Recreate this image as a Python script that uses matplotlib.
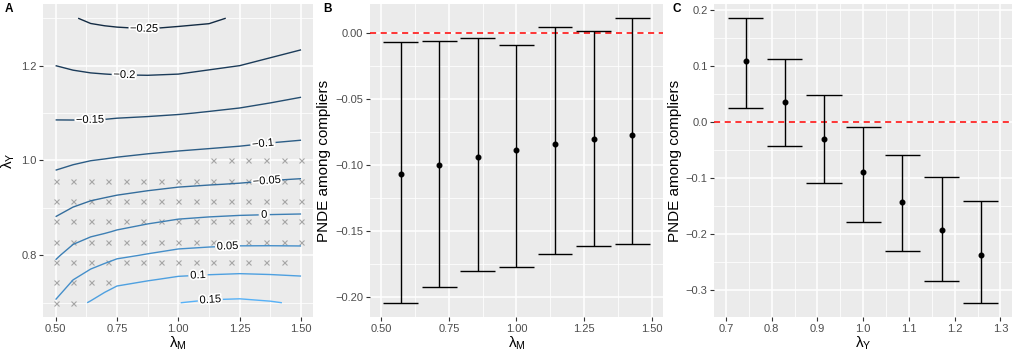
import numpy as np
import matplotlib
matplotlib.use("Agg")
import matplotlib.pyplot as plt
import matplotlib.patheffects as pe
from matplotlib.colors import LinearSegmentedColormap, Normalize
from matplotlib.ticker import FixedLocator, FuncFormatter

plt.rcParams["font.family"] = ["Liberation Sans", "DejaVu Sans"]
plt.rcParams["mathtext.fontset"] = "custom"
plt.rcParams["mathtext.rm"] = "Liberation Sans"
plt.rcParams["mathtext.it"] = "Liberation Sans:italic"

# ── Panel A: PNDE surface over (lambda_M, lambda_Y) ──────────────────────────
surf_lam_m = [0.5, 0.5714, 0.6429, 0.7, 0.75, 0.875, 1.0, 1.125, 1.25, 1.375, 1.5]
surf_lam_y = [0.70, 0.75, 0.80, 0.85, 0.90, 0.95, 1.00, 1.05, 1.10, 1.15, 1.20, 1.25, 1.30]
surf_pnde = [
    [0.054, 0.088, 0.103, 0.118, 0.130, 0.142, 0.1495, 0.156, 0.158, 0.153, 0.145],
    [0.024, 0.0487, 0.066, 0.077, 0.0875, 0.0965, 0.105, 0.108, 0.110, 0.108, 0.105],
    [-0.0055, 0.015, 0.028, 0.036, 0.0435, 0.0526, 0.061, 0.064, 0.066, 0.066, 0.065],
    [-0.033, -0.0175, -0.008, -0.003, 0.0025, 0.012, 0.020, 0.024, 0.026, 0.0265, 0.027],
    [-0.060, -0.049, -0.041, -0.0365, -0.0326, -0.025, -0.018, -0.0147, -0.012, -0.0104, -0.0093],
    [-0.0856, -0.077, -0.071, -0.068, -0.065, -0.0595, -0.0545, -0.0513, -0.0486, -0.0451, -0.0427],
    [-0.110, -0.105, -0.1003, -0.098, -0.0957, -0.091, -0.087, -0.084, -0.081, -0.077, -0.074],
    [-0.134, -0.132, -0.130, -0.1287, -0.1265, -0.123, -0.1195, -0.116, -0.1125, -0.108, -0.1044],
    [-0.1565, -0.1575, -0.158, -0.1577, -0.1565, -0.1547, -0.152, -0.148, -0.144, -0.138, -0.132],
    [-0.178, -0.181, -0.183, -0.1835, -0.184, -0.184, -0.182, -0.177, -0.172, -0.166, -0.159],
    [-0.200, -0.2045, -0.2075, -0.209, -0.210, -0.211, -0.210, -0.205, -0.200, -0.192, -0.184],
    [-0.221, -0.227, -0.2325, -0.234, -0.235, -0.236, -0.235, -0.230, -0.221, -0.216, -0.208],
    [-0.242, -0.248, -0.255, -0.2575, -0.259, -0.2615, -0.258, -0.256, -0.245, -0.2385, -0.231],
]
contour_levels = [-0.25, -0.2, -0.15, -0.1, -0.05, 0.0, 0.05, 0.1, 0.15]
label_spots = [(0.86, 1.277), (0.78, 1.18), (0.64, 1.083), (1.345, 1.034),
               (1.36, 0.957), (1.35, 0.884), (1.20, 0.818), (1.08, 0.757),
               (1.13, 0.708)]

# grid cells flagged with an "x"
mark_lam_m = [0.5, 0.5714, 0.6429, 0.7143, 0.7857, 0.8571, 0.9286, 1.0,
              1.0714, 1.1429, 1.2143, 1.2857, 1.3571, 1.4286, 1.5]
mark_lam_y = [0.7, 0.7429, 0.7857, 0.8286, 0.8714, 0.9143, 0.9571, 1.0]
mark_first = [0, 0, 0, 0, 0, 0, 0, 9]
mark_last = [1, 3, 13, 14, 14, 14, 14, 14]

# ── Panel B: PNDE vs lambda_M ────────────────────────────────────────────────
b_lam_m = [0.5714, 0.7143, 0.8571, 1.0, 1.1429, 1.2857, 1.4286]
b_est = [-0.1069, -0.0996, -0.0936, -0.0885, -0.0843, -0.0805, -0.0772]
b_lo = [-0.204, -0.192, -0.180, -0.177, -0.167, -0.161, -0.1597]
b_hi = [-0.007, -0.006, -0.0043, -0.009, 0.0043, 0.001, 0.0109]

# ── Panel C: PNDE vs lambda_Y ────────────────────────────────────────────────
c_lam_y = [0.7429, 0.8286, 0.9143, 1.0, 1.0857, 1.1714, 1.2571]
c_est = [0.110, 0.0364, -0.029, -0.0891, -0.1426, -0.1918, -0.237]
c_lo = [0.0257, -0.0415, -0.1087, -0.177, -0.230, -0.2834, -0.322]
c_hi = [0.186, 0.113, 0.049, -0.0089, -0.0576, -0.0973, -0.1396]


def minus(s):
    return s.replace("-", "\u2212")


def expand(lo, hi, mult=0.05):
    pad = (hi - lo) * mult
    return lo - pad, hi + pad


def gg_style(ax, xmaj, xmin, ymaj, ymin, xfmt, yfmt):
    ax.set_facecolor("#EBEBEB")
    for s in ax.spines.values():
        s.set_visible(False)
    ax.xaxis.set_major_locator(FixedLocator(xmaj))
    ax.xaxis.set_minor_locator(FixedLocator(xmin))
    ax.yaxis.set_major_locator(FixedLocator(ymaj))
    ax.yaxis.set_minor_locator(FixedLocator(ymin))
    ax.xaxis.set_major_formatter(FuncFormatter(lambda v, p: minus(xfmt.format(v))))
    ax.yaxis.set_major_formatter(FuncFormatter(lambda v, p: minus(yfmt.format(v))))
    ax.grid(which="major", color="white", lw=1.1)
    ax.grid(which="minor", color="white", lw=0.55)
    ax.set_axisbelow(True)
    ax.tick_params(which="major", length=2.75, width=0.8, color="#333333",
                   labelsize=8, labelcolor="#4D4D4D", pad=2)
    ax.tick_params(which="minor", length=0)


def errorbar_panel(ax, x, est, lo, hi, cap):
    ax.axhline(0, color="red", lw=1.1, ls=(0, (4, 3)), zorder=1)
    ax.vlines(x, lo, hi, color="black", lw=1.0, zorder=2)
    ax.hlines(lo, np.array(x) - cap, np.array(x) + cap, color="black", lw=1.0, zorder=2)
    ax.hlines(hi, np.array(x) - cap, np.array(x) + cap, color="black", lw=1.0, zorder=2)
    ax.plot(x, est, "o", color="black", ms=3.3, zorder=3)
    ax.set_xlim(*expand(min(x) - cap, max(x) + cap))
    ax.set_ylim(*expand(min(min(lo), 0), max(max(hi), 0)))


fig = plt.figure(figsize=(10.17, 3.56), dpi=100)
ax_a = fig.add_axes([0.0426, 0.1096, 0.2655, 0.8792])
ax_b = fig.add_axes([0.3638, 0.1096, 0.2881, 0.8792])
ax_c = fig.add_axes([0.7024, 0.1096, 0.2927, 0.8792])

# ── A ──
for yv, i0, i1 in zip(mark_lam_y, mark_first, mark_last):
    ax_a.plot(mark_lam_m[i0:i1 + 1], [yv] * (i1 - i0 + 1), "x", color="#A6A6A6",
              ms=3.6, mew=0.8, zorder=2)

cmap = LinearSegmentedColormap.from_list("gg", ["#132B43", "#56B1F7"])
cs = ax_a.contour(surf_lam_m, surf_lam_y, np.array(surf_pnde), levels=contour_levels,
                  cmap=cmap, norm=Normalize(-0.25, 0.15), linewidths=1.0, zorder=3)
labels = ax_a.clabel(cs, manual=label_spots, inline=True, inline_spacing=3,
                     fontsize=8, colors="black",
                     fmt={lv: minus(f"{lv:g}") for lv in contour_levels})
for t in labels:
    t.set_path_effects([pe.withStroke(linewidth=2.5, foreground="white")])
    t.set_zorder(4)

ax_a.set_xlim(*expand(0.5, 1.5))
ax_a.set_ylim(*expand(0.7, 1.3))
gg_style(ax_a, [0.5, 0.75, 1.0, 1.25, 1.5], [0.625, 0.875, 1.125, 1.375],
         [0.8, 1.0, 1.2], [0.7, 0.9, 1.1, 1.3], "{:.2f}", "{:.1f}")
ax_a.set_xlabel(r"$\mathregular{\lambda_M}$", fontsize=11, labelpad=1)
ax_a.set_ylabel(r"$\mathregular{\lambda_Y}$", fontsize=11, labelpad=3)

# ── B ──
errorbar_panel(ax_b, b_lam_m, b_est, b_lo, b_hi, cap=0.9 * 0.1429 / 2)
gg_style(ax_b, [0.5, 0.75, 1.0, 1.25, 1.5], [0.625, 0.875, 1.125, 1.375],
         [0.0, -0.05, -0.10, -0.15, -0.20], [-0.025, -0.075, -0.125, -0.175],
         "{:.2f}", "{:.2f}")
ax_b.set_xlabel(r"$\mathregular{\lambda_M}$", fontsize=11, labelpad=1)
ax_b.set_ylabel("PNDE among compliers", fontsize=11, labelpad=3)

# ── C ──
errorbar_panel(ax_c, c_lam_y, c_est, c_lo, c_hi, cap=0.9 * 0.0857 / 2)
gg_style(ax_c, [0.7, 0.8, 0.9, 1.0, 1.1, 1.2, 1.3], [0.75, 0.85, 0.95, 1.05, 1.15, 1.25],
         [0.2, 0.1, 0.0, -0.1, -0.2, -0.3], [0.15, 0.05, -0.05, -0.15, -0.25],
         "{:.1f}", "{:.1f}")
ax_c.set_xlabel(r"$\mathregular{\lambda_Y}$", fontsize=11, labelpad=1)
ax_c.set_ylabel("PNDE among compliers", fontsize=11, labelpad=3)

for letter, xpx in [("A", 9), ("B", 328), ("C", 677)]:
    fig.text(xpx / 1017, 1 - 9 / 356, letter, fontsize=8.5, fontweight="bold",
             ha="center", va="center")

fig.savefig("out.png", dpi=100)
